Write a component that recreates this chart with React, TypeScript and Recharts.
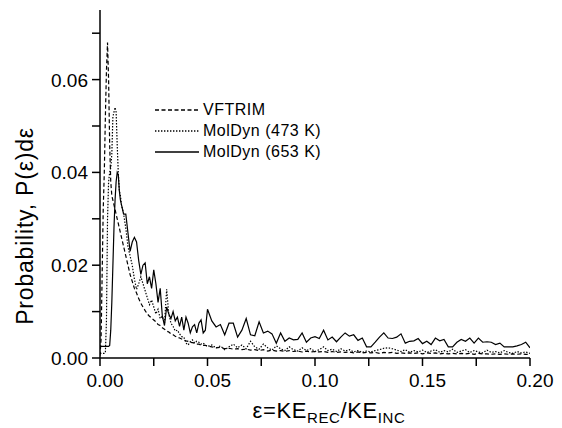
import React from "react";
import { LineChart, Line, XAxis, YAxis } from "recharts";

// ε values (finer steps near the peaks)
const eps = [
  0, 0.0005, 0.001, 0.0015, 0.002, 0.0025, 0.003, 0.0035, 0.004, 0.0045,
  0.005, 0.0055, 0.006, 0.0065, 0.007, 0.0075, 0.008, 0.0085, 0.009, 0.0095, 0.01,
  0.011, 0.012, 0.013, 0.014, 0.015, 0.016, 0.017, 0.018, 0.019, 0.02,
  0.021, 0.022, 0.023, 0.024, 0.025, 0.026, 0.027, 0.028, 0.029, 0.03,
  0.031, 0.032, 0.033, 0.034, 0.035, 0.036, 0.037, 0.038, 0.039, 0.04,
  0.041, 0.042, 0.043, 0.044, 0.045, 0.046, 0.047, 0.048, 0.049, 0.05,
  0.052, 0.054, 0.056, 0.058, 0.06, 0.062, 0.064, 0.066, 0.068, 0.07,
  0.072, 0.074, 0.076, 0.078, 0.08, 0.082, 0.084, 0.086, 0.088, 0.09,
  0.092, 0.094, 0.096, 0.098, 0.1, 0.102, 0.104, 0.106, 0.108, 0.11,
  0.112, 0.114, 0.116, 0.118, 0.12, 0.122, 0.124, 0.126, 0.128, 0.13,
  0.132, 0.134, 0.136, 0.138, 0.14, 0.142, 0.144, 0.146, 0.148, 0.15,
  0.152, 0.154, 0.156, 0.158, 0.16, 0.162, 0.164, 0.166, 0.168, 0.17,
  0.172, 0.174, 0.176, 0.178, 0.18, 0.182, 0.184, 0.186, 0.188, 0.19,
  0.192, 0.194, 0.196, 0.198, 0.2,
];

const vftrim = [
  0.0005, 0.004, 0.018, 0.032, 0.04, 0.052, 0.062, 0.068, 0.06, 0.046,
  0.038, 0.035, 0.034, 0.033, 0.032, 0.031, 0.03, 0.029, 0.028, 0.027, 0.026,
  0.024, 0.022, 0.02, 0.018, 0.0165, 0.015, 0.014, 0.0128, 0.0118, 0.011,
  0.0102, 0.0095, 0.009, 0.0086, 0.0082, 0.0078, 0.0072, 0.007, 0.0065, 0.0062,
  0.0058, 0.0056, 0.0052, 0.005, 0.0047, 0.0045, 0.0043, 0.0041, 0.0039, 0.0037,
  0.0036, 0.0034, 0.0033, 0.0032, 0.003, 0.003, 0.0028, 0.0027, 0.0027, 0.0026,
  0.0024, 0.0022, 0.0023, 0.002, 0.0021, 0.0019, 0.002, 0.0018, 0.0019, 0.0017,
  0.0018, 0.0016, 0.0018, 0.0015, 0.0017, 0.0015, 0.0016, 0.0014, 0.0016, 0.0014,
  0.0015, 0.0013, 0.0015, 0.0013, 0.0014, 0.0013, 0.0014, 0.0012, 0.0014, 0.0012,
  0.0013, 0.0012, 0.0013, 0.0011, 0.0013, 0.0011, 0.0012, 0.0011, 0.0012, 0.001,
  0.0012, 0.0011, 0.0012, 0.001, 0.0011, 0.001, 0.0011, 0.001, 0.0011, 0.0009,
  0.0011, 0.001, 0.0011, 0.0009, 0.001, 0.0009, 0.001, 0.0009, 0.001, 0.0009,
  0.001, 0.0008, 0.001, 0.0009, 0.0009, 0.0008, 0.0009, 0.0008, 0.0009, 0.0008,
  0.0009, 0.0008, 0.0009, 0.0008, 0.0008,
];

const molDyn473 = [
  0.001, 0.001, 0.001, 0.001, 0.001, 0.0012, 0.008, 0.03, 0.038, 0.04,
  0.041, 0.044, 0.052, 0.053, 0.054, 0.053, 0.046, 0.04, 0.036, 0.035, 0.033,
  0.031, 0.028, 0.024, 0.022, 0.02, 0.017, 0.0148, 0.016, 0.0175, 0.016,
  0.0145, 0.013, 0.0115, 0.0125, 0.011, 0.0095, 0.0105, 0.0085, 0.009, 0.0075,
  0.0148, 0.0095, 0.0075, 0.0068, 0.0058, 0.006, 0.0052, 0.0046, 0.0045, 0.0032,
  0.0028, 0.0035, 0.0039, 0.0032, 0.0036, 0.0034, 0.003, 0.0032, 0.0028, 0.0025,
  0.0028, 0.0022, 0.0026, 0.0018, 0.0024, 0.003, 0.0022, 0.0028, 0.002, 0.0036,
  0.0024, 0.0019, 0.003, 0.0022, 0.0017, 0.0026, 0.002, 0.0016, 0.0024, 0.0018,
  0.0015, 0.0022, 0.0016, 0.002, 0.0014, 0.0018, 0.0024, 0.0016, 0.0019, 0.0014,
  0.002, 0.0015, 0.0018, 0.0013, 0.0016, 0.0012, 0.0015, 0.0013, 0.0016, 0.0018,
  0.0021, 0.0022, 0.002, 0.0017, 0.0014, 0.0018, 0.0012, 0.0016, 0.0013, 0.0017,
  0.0012, 0.0015, 0.0018, 0.0012, 0.0016, 0.0013, 0.0019, 0.0012, 0.0015, 0.0018,
  0.0012, 0.0016, 0.0013, 0.0011, 0.0017, 0.0012, 0.0014, 0.0011, 0.0016, 0.0012,
  0.001, 0.0014, 0.0011, 0.0013, 0.001,
];

const molDyn653 = [
  0.0025, 0.0025, 0.0025, 0.0025, 0.0025, 0.0025, 0.0025, 0.0025, 0.0025, 0.0027,
  0.006, 0.012, 0.02, 0.028, 0.034, 0.038, 0.04, 0.0395, 0.036, 0.034, 0.033,
  0.031, 0.031, 0.027, 0.023, 0.025, 0.026, 0.025, 0.021, 0.018, 0.02,
  0.0205, 0.016, 0.0175, 0.015, 0.019, 0.016, 0.012, 0.015, 0.009, 0.007,
  0.011, 0.0095, 0.0085, 0.01, 0.008, 0.0088, 0.0068, 0.0088, 0.006, 0.0088,
  0.0075, 0.0054, 0.0067, 0.0072, 0.0054, 0.0075, 0.0082, 0.0054, 0.006, 0.0105,
  0.008, 0.0067, 0.0072, 0.005, 0.0075, 0.0075, 0.0045, 0.006, 0.0085, 0.005,
  0.0048, 0.0078, 0.0054, 0.0058, 0.0052, 0.0032, 0.0054, 0.0036, 0.0043, 0.0039,
  0.004, 0.0054, 0.0034, 0.0043, 0.0046, 0.0042, 0.006, 0.0039, 0.0045, 0.0035,
  0.0045, 0.0054, 0.0047, 0.005, 0.0038, 0.0043, 0.0024, 0.0024, 0.0034, 0.0045,
  0.0054, 0.0043, 0.0042, 0.0045, 0.0052, 0.0032, 0.0036, 0.0037, 0.0042, 0.0031,
  0.0036, 0.0029, 0.0043, 0.0037, 0.004, 0.0024, 0.0024, 0.0034, 0.004, 0.0036,
  0.0043, 0.0032, 0.0043, 0.0034, 0.0035, 0.0034, 0.0029, 0.0032, 0.0024, 0.0024,
  0.0024, 0.0026, 0.0029, 0.0034, 0.0022,
];

const xTicks = [0, 0.025, 0.05, 0.075, 0.1, 0.125, 0.15, 0.175, 0.2];
const xLabelled = [0, 0.05, 0.1, 0.15, 0.2];
const yTicks = [0, 0.01, 0.02, 0.03, 0.04, 0.05, 0.06, 0.07];
const yLabelled = [0, 0.02, 0.04, 0.06];

const seriesInfo = [
  { key: "vftrim", name: "VFTRIM", dash: "4 2.5" },
  { key: "md473", name: "MolDyn (473 K)", dash: "1.4 1.6" },
  { key: "md653", name: "MolDyn (653 K)", dash: undefined },
];

const data = eps.map((x, i) => ({
  x,
  vftrim: vftrim[i],
  md473: molDyn473[i],
  md653: molDyn653[i],
}));

const FONT = '"Liberation Sans", Arial, sans-serif';

const XTick = ({ x, y, payload }: any) => {
  const v = payload.value;
  if (!xLabelled.some((t) => Math.abs(t - v) < 1e-9)) return <g />;
  return (
    <text x={x + 5} y={y + 21} textAnchor="middle" fontSize={19} fill="#000" fontFamily={FONT}>
      {v.toFixed(2)}
    </text>
  );
};

const YTick = ({ x, y, payload }: any) => {
  const v = payload.value;
  if (!yLabelled.some((t) => Math.abs(t - v) < 1e-9)) return <g />;
  return (
    <text x={x} y={y + 7} textAnchor="end" fontSize={19} fill="#000" fontFamily={FONT}>
      {v.toFixed(2)}
    </text>
  );
};

const XTitle = () => (
  <text
    x={329}
    y={418}
    textAnchor="middle"
    fontSize={22}
    letterSpacing={0.6}
    fill="#000"
    fontFamily={FONT}
  >
    ε=KE
    <tspan fontSize={15} dy={5}>REC</tspan>
    <tspan dy={-5}>/KE</tspan>
    <tspan fontSize={15} dy={5}>INC</tspan>
  </text>
);

const YTitle = () => (
  <text
    x={0}
    y={0}
    transform="translate(33, 226) rotate(-90)"
    textAnchor="middle"
    fontSize={23}
    letterSpacing={0.8}
    fill="#000"
    fontFamily={FONT}
  >
    Probability, P(ε)dε
  </text>
);

const LegendBox = () => (
  <div
    style={{
      position: "absolute",
      left: 155,
      top: 99,
      fontFamily: FONT,
      fontSize: 16,
      letterSpacing: 0.5,
      color: "#000",
      lineHeight: "21px",
    }}
  >
    {seriesInfo.map((s) => (
      <div key={s.key} style={{ display: "flex", alignItems: "center", height: 21 }}>
        <svg width={44} height={6} style={{ marginRight: 4 }}>
          <line x1={0} y1={3} x2={44} y2={3} stroke="#000" strokeWidth={1.3} strokeDasharray={s.dash} />
        </svg>
        <span>{s.name}</span>
      </div>
    ))}
  </div>
);

export default function App() {
  return (
    <div style={{ position: "absolute", left: 0, top: 0, width: 562, height: 428, background: "#fff" }}>
      <LineChart width={562} height={428} data={data} margin={{ top: 10, right: 32, bottom: 0, left: 0 }}>
        <XAxis
          dataKey="x"
          type="number"
          domain={[0, 0.2]}
          ticks={xTicks}
          tick={<XTick />}
          tickSize={8}
          tickMargin={0}
          height={70}
          stroke="#000"
          strokeWidth={1.5}
          allowDataOverflow
          label={<XTitle />}
        />
        <YAxis
          type="number"
          domain={[0, 0.075]}
          ticks={yTicks}
          tick={<YTick />}
          tickSize={8}
          tickMargin={4}
          width={100}
          stroke="#000"
          strokeWidth={1.5}
          allowDataOverflow
          label={<YTitle />}
        />
        {seriesInfo.map((s) => (
          <Line
            key={s.key}
            dataKey={s.key}
            name={s.name}
            type="linear"
            stroke="#000"
            strokeWidth={1.2}
            strokeDasharray={s.dash}
            dot={false}
            activeDot={false}
            isAnimationActive={false}
          />
        ))}
      </LineChart>
      <LegendBox />
    </div>
  );
}
